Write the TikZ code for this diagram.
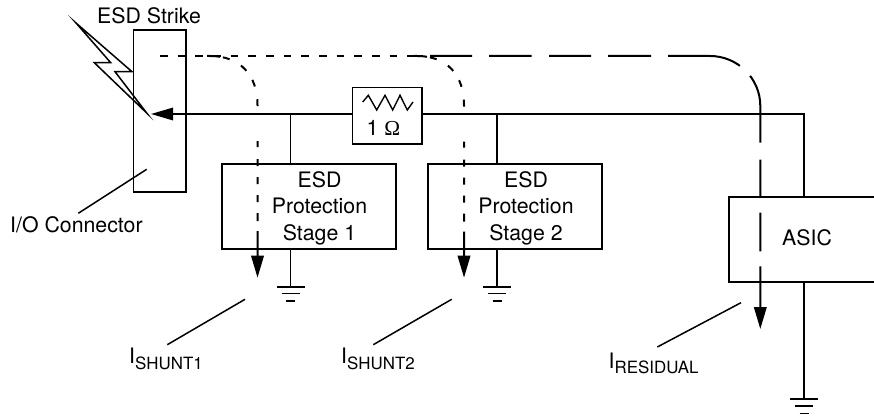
\documentclass[tikz,border=0pt]{standalone}
\usepackage{fontspec}
\setmainfont{TeX Gyre Heros}
\newfontfamily\omegafont{Liberation Serif}
\usetikzlibrary{arrows.meta}
\tikzset{
  wire/.style={line width=1.6pt,line join=miter},
  box/.style={draw,line width=1.6pt,inner sep=0pt,fill=white},
  lbl/.style={inner sep=0pt,anchor=base west,font=\fontsize{21.3}{26.5}\selectfont},
  multi/.style={inner sep=0pt,align=center,font=\fontsize{21.3}{26.5}\selectfont},
  leader/.style={line width=1.5pt},
  bolt/.style={line width=1.5pt,line join=miter,miter limit=20},
  current/.style={line width=2pt,-{Triangle[length=22pt,width=12.5pt]}},
  shuntdash/.style={dash pattern=on 13pt off 3pt on 7pt off 13pt on 7.5pt off 11pt on 7pt off 13pt on 7pt off 35pt on 6pt off 12pt on 7pt off 11pt on 7pt off 11pt on 7pt off 11pt on 8pt off 10pt on 60pt off 400pt},
  resdash/.style={dash pattern=on 42pt off 17pt on 42.7pt off 17.3pt on 42pt off 17pt on 43pt off 17pt on 74pt off 14.3pt on 69pt off 17pt on 37pt off 16pt on 38.7pt off 15pt on 80pt off 400pt},
  ground/.pic={\draw[wire] (-14,0) -- (14,0) (-9,6.7) -- (9,6.7) (-4.5,14.5) -- (4.5,14.5);}
}
\begin{document}
\begin{tikzpicture}[x=1pt,y=-1pt]
\useasboundingbox (0,0) rectangle (874,419);
% connection points
\coordinate (tip) at (151,114);
\coordinate (corner) at (804,114);
\coordinate (g1) at (290.5,286.7);
\coordinate (g2) at (497,286.7);
\coordinate (g3) at (804,399);
% main wire
\draw[wire,{Triangle[length=22pt,width=12.5pt]}-] (tip) -- (corner) -- (804,197);
% boxes
\node[draw,line width=1.6pt,inner sep=0pt,minimum width=52.2pt,minimum height=162pt] (conn) at (159.6,111) {};
\node[box,minimum width=174.5pt,minimum height=85pt] (s1) at (309,206.5) {};
\node[box,minimum width=174.5pt,minimum height=85pt] (s2) at (515,206.5) {};
\node[box,minimum width=69.4pt,minimum height=56.6pt] (res) at (387,116) {};
\draw[wire] (874,197) -- (729,197) -- (729,282) -- (874,282);
% taps
\draw[wire] (290.5,114) -- (s1.north -| 290.5,0);
\draw[wire] (497,114) -- (s2.north -| 497,0);
\draw[wire] (s1.south -| g1) -- (g1);
\draw[wire] (s2.south -| g2) -- (g2);
\draw[wire] (804,282) -- (g3);
\pic at (g1) {ground};
\pic at (g2) {ground};
\pic at (g3) {ground};
% resistor symbol
\draw[line width=1.4pt,line join=miter] (362.7,102) -- (368.3,95.3) -- (376.7,110) -- (385,95.3) -- (392.7,110) -- (400,95.3) -- (407.3,110) -- (413,102);
% lightning
\draw[bolt] (76,23) -- (132,71.7) -- (115,71.7) -- (146.7,113) -- (94.3,62.7) -- (110.7,62.7) -- cycle;
% leaders
\coordinate (a1) at (146.7,169.3); \coordinate (a2) at (78.3,213.3);
\draw[leader] (a1) -- (a2);
\coordinate (b1) at (245,299.3); \coordinate (b2) at (167.3,344.7);
\draw[leader] (b1) -- (b2);
\coordinate (c1) at (451.7,299.3); \coordinate (c2) at (373.3,344.7);
\draw[leader] (c1) -- (c2);
\coordinate (d1) at (741,302.7); \coordinate (d2) at (657.3,347);
\draw[leader] (d1) -- (d2);
% current paths
\coordinate (startA) at (160,56);
\coordinate (endA) at (415,56);
\draw[line width=2pt,dash pattern=on 7.5pt off 10.17pt] (startA) -- (endA);
\coordinate (startB) at (207,56);
\coordinate (arr1) at (257.5,277.7);
\draw[current,shuntdash] (startB) -- (210,56) .. controls (240,56) and (257.5,75) .. (257.5,105) -- (arr1);
\coordinate (startC) at (414,56);
\coordinate (arr2) at (464,277.7);
\draw[current,shuntdash] (startC) -- (417,56) .. controls (447,56) and (464,75) .. (464,105) -- (arr2);
\coordinate (startD) at (430,56);
\coordinate (arr3) at (760.3,329);
\draw[current,resdash] (startD) -- (710,56) .. controls (737.6,56) and (760.3,78.4) .. (760.3,106) -- (arr3);
% texts
\node[lbl] (t1) at (97,23.3) {ESD Strike};
\node[lbl] (t2) at (10,232.7) {I/O Connector};
\node[multi] (t3) at (319.5,208) {ESD\\Protection\\Stage 1};
\node[multi] (t4) at (526,208) {ESD\\Protection\\Stage 2};
\node[lbl] (t5) at (782,246) {ASIC};
\node[lbl] (t6) at (366.5,135.7) {1 {\omegafont Ω}};
\node[lbl] (t7) at (129,363.3) {I\raisebox{-6pt}{\fontsize{16.9}{20}\selectfont SHUNT1}};
\node[lbl] (t8) at (341,363.3) {I\raisebox{-6pt}{\fontsize{16.9}{20}\selectfont SHUNT2}};
\node[lbl] (t9) at (608.5,368.3) {I\raisebox{-5pt}{\fontsize{16.9}{20}\selectfont RESIDUAL}};
\end{tikzpicture}
\end{document}
